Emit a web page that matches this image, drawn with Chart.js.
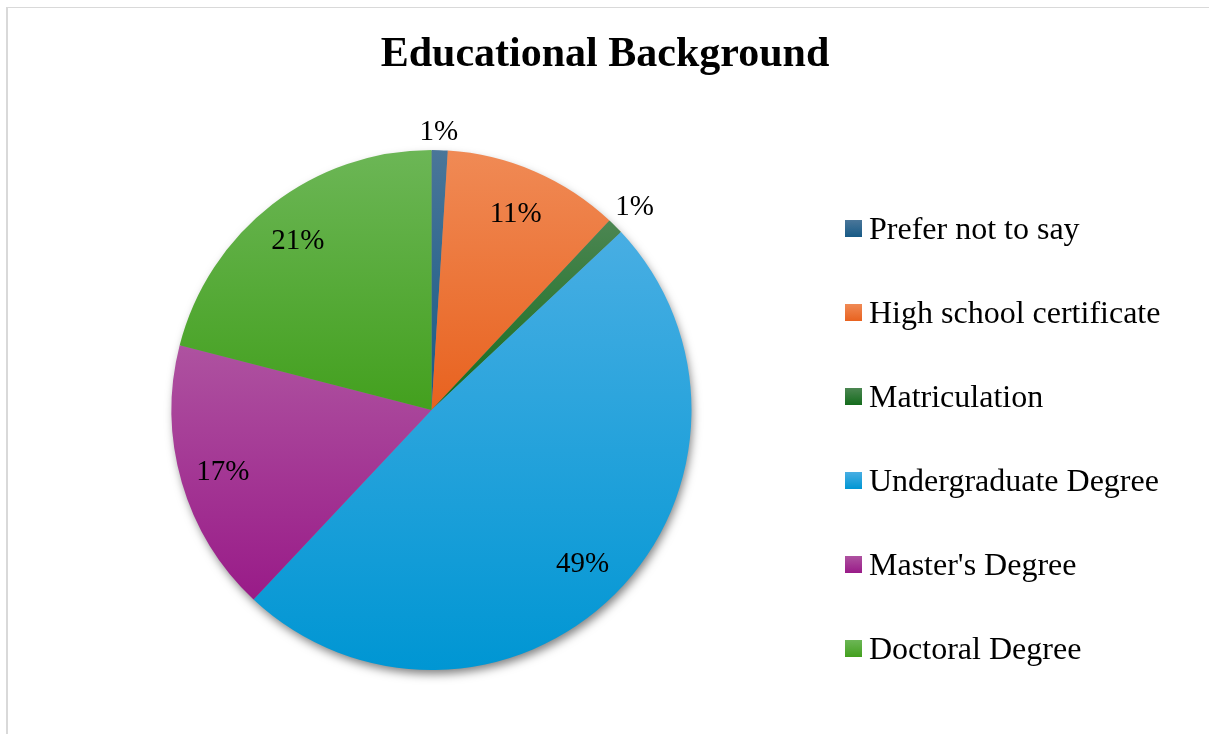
<!DOCTYPE html>
<html>
<head>
<meta charset="utf-8">
<title>Educational Background</title>
<script src="https://cdn.jsdelivr.net/npm/chart.js@4.4.0/dist/chart.umd.min.js"></script>
<style>
  body { margin: 0; background: #fff; }
  #wrap { position: relative; width: 1209px; height: 734px; overflow: hidden;
          font-family: 'Liberation Serif', 'Times New Roman', serif; color: #000; }
  /* thin grey frame, only top and left edges are visible */
  #frame { position: absolute; left: 6px; top: 7px; right: -10px; bottom: -10px;
           border-top: 1px solid #d9d9d9; border-left: 2px solid #d9d9d9; }
  #chart { position: absolute; left: 0; top: 0; }
  #title { position: absolute; left: 0; width: 1210px; top: 27px; height: 50px; line-height: 50px;
           text-align: center; font-size: 42px; font-weight: bold; }
  #legend { position: absolute; left: 845px; top: 0; font-size: 32px; }
  .item { position: absolute; left: 0; height: 40px; line-height: 40px; white-space: nowrap; }
  .swatch { position: absolute; left: 0; top: 11.5px; width: 17px; height: 17px; }
  .label { position: absolute; left: 24px; top: 0; }
</style>
</head>
<body>
<div id="wrap">
  <div id="frame"></div>
  <canvas id="chart" width="1209" height="734"></canvas>
  <div id="title">Educational Background</div>
  <div id="legend"></div>
</div>
<script>
// Survey answers (percent of respondents)
const categories = ['Prefer not to say', 'High school certificate', 'Matriculation',
                    'Undergraduate Degree', "Master's Degree", 'Doctoral Degree'];
const shares = [1, 11, 1, 49, 17, 21];

// light (top) and dark (bottom) shade of every slice
const topColors = ['#4a7699', '#f08a55', '#4c8652', '#48aee3', '#ae52a0', '#6cb656'];
const bottomColors = ['#175a86', '#e8621f', '#146c1c', '#0096d3', '#991b88', '#43a01e'];

// vertical gradient fitted to the bounding box of one slice
function sliceGradient(context) {
  const chart = context.chart;
  const area = chart.chartArea;
  const i = context.dataIndex;
  if (!area) return bottomColors[i];
  const cx = (area.left + area.right) / 2;
  const cy = (area.top + area.bottom) / 2;
  const r = Math.min(area.width, area.height) / 2;
  const total = shares.reduce((a, b) => a + b, 0);
  let before = 0;
  for (let k = 0; k < i; k++) before += shares[k];
  const a0 = before / total * 2 * Math.PI;
  const a1 = (before + shares[i]) / total * 2 * Math.PI;
  const ys = [cy, cy - r * Math.cos(a0), cy - r * Math.cos(a1)];
  if (a0 <= Math.PI && a1 >= Math.PI) ys.push(cy + r);
  if (a0 === 0 || a1 >= 2 * Math.PI - 1e-9) ys.push(cy - r);
  const g = chart.ctx.createLinearGradient(0, Math.min(...ys), 0, Math.max(...ys));
  g.addColorStop(0, topColors[i]);
  g.addColorStop(1, bottomColors[i]);
  return g;
}

// soft drop shadow under the whole pie
const pieShadow = {
  id: 'pieShadow',
  beforeDatasetsDraw(chart) {
    const arc = chart.getDatasetMeta(0).data[0];
    if (!arc) return;
    const {x, y, outerRadius} = arc.getProps(['x', 'y', 'outerRadius'], true);
    const ctx = chart.ctx;
    ctx.save();
    ctx.shadowColor = 'rgba(0, 0, 0, 0.5)';
    ctx.shadowBlur = 10;
    ctx.shadowOffsetX = 2;
    ctx.shadowOffsetY = 5;
    ctx.fillStyle = '#888';
    ctx.beginPath();
    ctx.arc(x, y, outerRadius - 1, 0, 2 * Math.PI);
    ctx.fill();
    ctx.restore();
  }
};

// percentage labels: inside big slices, just outside the tiny ones
const percentLabels = {
  id: 'percentLabels',
  afterDatasetsDraw(chart) {
    const ctx = chart.ctx;
    const meta = chart.getDatasetMeta(0);
    ctx.save();
    ctx.font = '29px "Liberation Serif", "Times New Roman", serif';
    ctx.fillStyle = '#000';
    ctx.textAlign = 'center';
    ctx.textBaseline = 'middle';
    meta.data.forEach((arc, i) => {
      const p = arc.getProps(['x', 'y', 'startAngle', 'endAngle', 'outerRadius'], true);
      const mid = (p.startAngle + p.endAngle) / 2;
      const text = shares[i] + '%';
      const w = ctx.measureText(text).width;
      const h = 22;
      let dist;
      if (shares[i] < 5) {
        dist = p.outerRadius + 8 + Math.abs(Math.cos(mid)) * w / 2 + Math.abs(Math.sin(mid)) * h / 2;
      } else {
        dist = p.outerRadius * 0.83;
      }
      ctx.fillText(text, p.x + Math.cos(mid) * dist - 1.5, p.y + Math.sin(mid) * dist + 2);
    });
    ctx.restore();
  }
};

const ctx = document.getElementById('chart').getContext('2d');
new Chart(ctx, {
  type: 'pie',
  data: {
    labels: categories,
    datasets: [{
      data: shares,
      backgroundColor: sliceGradient,
      borderWidth: 0
    }]
  },
  options: {
    responsive: false,
    animation: false,
    layout: { padding: { top: 150, left: 171.5, right: 517.5, bottom: 64 } },
    plugins: {
      legend: { display: false },
      tooltip: { enabled: false },
      title: { display: false }
    }
  },
  plugins: [pieShadow, percentLabels]
});

// legend on the right
const legend = document.getElementById('legend');
categories.forEach((name, i) => {
  const item = document.createElement('div');
  item.className = 'item';
  item.style.top = (208 + 84 * i) + 'px';
  const swatch = document.createElement('span');
  swatch.className = 'swatch';
  swatch.style.background = 'linear-gradient(' + topColors[i] + ', ' + bottomColors[i] + ')';
  const label = document.createElement('span');
  label.className = 'label';
  label.textContent = name;
  item.appendChild(swatch);
  item.appendChild(label);
  legend.appendChild(item);
});
</script>
</body>
</html>
